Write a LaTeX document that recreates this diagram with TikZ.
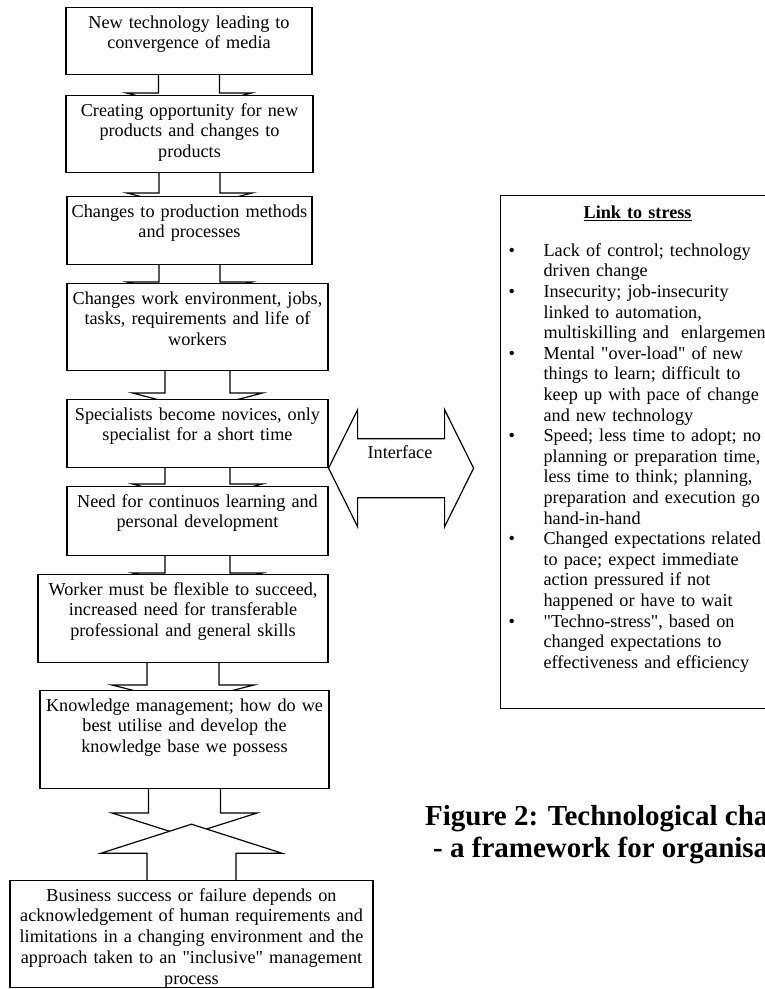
\documentclass[tikz,border=0pt]{standalone}
\usepackage{fontspec}
\setmainfont{Liberation Serif}[Ligatures=TeXOff]
\usetikzlibrary{calc,backgrounds}

\tikzset{
  stage/.style={draw, fill=white, line width=1.2pt, anchor=north, align=center,
    inner xsep=2pt, inner ysep=3pt, text height=17.5pt, text width=#1},
  link/.style={draw, fill=white, line width=1.2pt},
  figtitle/.style={font=\bfseries\fontsize{29}{33}\selectfont, inner sep=0pt, anchor=base west},
}

% block arrow from one box down to the next (head hidden under the next box)
\newcommand{\flowdown}[6]{%
  \draw[link] let \p1=(#1.south), \p2=(#2.north) in
    (\x1-#3pt,\y1) -- (\x1-#3pt,\y2+#6pt) -- (\x1-#4pt,\y2+#6pt) -- (\x1,\y2+#6pt-#5pt)
    -- (\x1+#4pt,\y2+#6pt) -- (\x1+#3pt,\y2+#6pt) -- (\x1+#3pt,\y1);
}
% same, pointing up
\newcommand{\flowup}[6]{%
  \draw[link] let \p1=(#1.north), \p2=(#2.south) in
    (\x1-#3pt,\y1) -- (\x1-#3pt,\y2-#6pt) -- (\x1-#4pt,\y2-#6pt) -- (\x1,\y2-#6pt+#5pt)
    -- (\x1+#4pt,\y2-#6pt) -- (\x1+#3pt,\y2-#6pt) -- (\x1+#3pt,\y1);
}
\newcommand{\stressitem}[1]{\par\noindent\hangindent=35pt\hangafter=1\makebox[35pt][l]{\textbullet}#1}

\begin{document}
\begin{tikzpicture}[x=1pt, y=-1pt, font=\fontsize{18.2}{20.8}\selectfont]
  \useasboundingbox (0,0) rectangle (765,989);

  % the chain of stages
  \node[stage=242pt, text depth=43.5pt] (b1) at (189,7) {New technology leading to\\convergence of media};
  \node[stage=243pt, text depth=53.5pt] (b2) at (189.5,95) {Creating opportunity for new\\products and changes to\\products};
  \node[stage=241pt, text depth=44.5pt] (b3) at (189.5,196) {Changes to production methods\\and processes};
  \node[stage=257pt, text depth=63.5pt] (b4) at (197.5,283) {Changes work environment, jobs,\\tasks, requirements and life of\\workers};
  \node[stage=257pt, text depth=44.5pt] (b5) at (197.5,399) {Specialists become novices, only\\specialist for a short time};
  \node[stage=257pt, text depth=45.5pt] (b6) at (197.5,486) {Need for continuos learning and\\personal development};
  \node[stage=286pt, text depth=64.5pt] (b7) at (183,574) {Worker must be flexible to succeed,\\increased need for transferable\\professional and general skills};
  \node[stage=285pt, text depth=74.5pt] (b8) at (184.5,690) {Knowledge management; how do we\\best utilise and develop the\\knowledge base we possess};
  \node[stage=359pt, text depth=83.5pt] (b9) at (191.5,880) {Business success or failure depends on\\acknowledgement of human requirements and\\limitations in a changing environment and the\\approach taken to an "inclusive" management\\process};

  % arrows between the stages
  \begin{scope}[on background layer]
    \flowdown{b1}{b2}{30.5}{62.5}{16}{2}
    \flowdown{b2}{b3}{30.5}{62.5}{16}{3}
    \flowdown{b3}{b4}{30.5}{62.5}{16}{1}
    \flowdown{b4}{b5}{32.5}{65}{17}{6}
    \flowdown{b5}{b6}{32.5}{65}{17}{2}
    \flowdown{b6}{b7}{32.5}{65}{17}{1}
    \flowdown{b7}{b8}{36}{71}{18}{5}
    \flowdown{b8}{b9}{36}{72.5}{23}{67}
    \flowup{b9}{b8}{44.5}{90.5}{29}{64}
  \end{scope}

  % interface arrow
  \draw[link, shift={(b5.south east)}] (0,0) -- (29,-58.5) -- (29,-29.5) -- (116,-29.5) -- (116,-58.5)
    -- (145,0) -- (116,58.5) -- (116,29.5) -- (29,29.5) -- (29,58.5) -- cycle;
  \node (iface) at (400,452) {Interface};

  % stress box
  \node[draw, line width=1.2pt, anchor=north west, align=left, text width=274pt,
    font=\fontsize{18.2}{20.6}\selectfont,
    inner xsep=8pt, inner ysep=3pt, text height=20pt, text depth=487pt] (linkbox) at (500,195) {%
    \makebox[258pt]{\underline{\textbf{Link to stress}}}\par\vspace{17pt}
    \stressitem{Lack of control; technology\newline driven change}
    \stressitem{Insecurity; job-insecurity\newline linked to automation,\newline multiskilling and~ enlargement}
    \stressitem{Mental "over-load" of new\newline things to learn; difficult to\newline keep up with pace of change\newline and new technology}
    \stressitem{Speed; less time to adopt; no\newline planning or preparation time,\newline less time to think; planning,\newline preparation and execution go\newline hand-in-hand}
    \stressitem{Changed expectations related\newline to pace; expect immediate\newline action pressured if not\newline happened or have to wait}
    \stressitem{"Techno-stress", based on\newline changed expectations to\newline effectiveness and efficiency}\par};

  \node[figtitle] (cap1) at (425,825) {Figure 2: Technological cha};
  \node[figtitle] (cap2) at (433,857) {- a framework for organisa};
\end{tikzpicture}
\end{document}
